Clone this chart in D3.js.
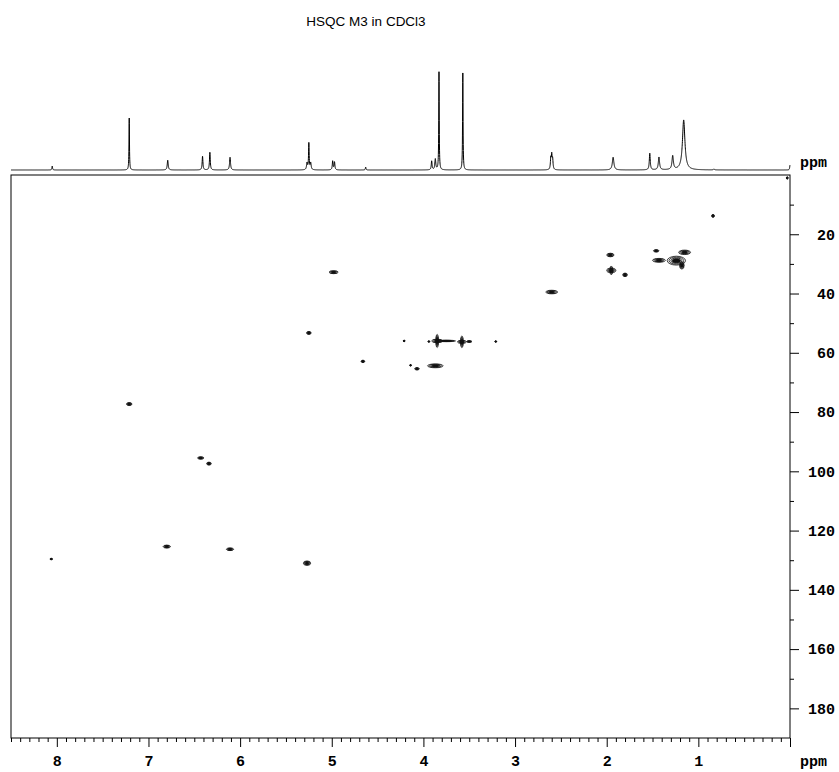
<!DOCTYPE html>
<html>
<head>
<meta charset="utf-8">
<script src="https://cdn.jsdelivr.net/npm/d3@7"></script>
<style>
  body { margin: 0; background: #fff; }
  svg { display: block; }
</style>
</head>
<body>
<svg width="839" height="772"></svg>
<script>
// 1H projection: peak shift (ppm), height (% of tallest), half width (ppm)
const peakShift  = [8.05, 7.21, 6.79, 6.41, 6.33, 6.11, 5.27, 5.25, 5.23, 4.99, 4.97, 4.63, 3.91, 3.87, 3.83, 3.57, 2.61, 2.60, 2.59, 1.93, 1.53, 1.43, 1.28, 1.16, 0.83, 0.00];
const peakHeight = [4, 53, 10, 14, 18, 13, 7, 27, 7, 9, 8, 3, 9, 11, 100, 99, 11, 14, 10, 13, 17, 13, 14, 51, 1, 5];
const peakWidth  = [0.004, 0.003, 0.006, 0.005, 0.005, 0.006, 0.006, 0.004, 0.006, 0.005, 0.005, 0.004, 0.005, 0.006, 0.003, 0.003, 0.005, 0.005, 0.005, 0.01, 0.006, 0.008, 0.009, 0.016, 0.006, 0.004];

// HSQC cross peaks: 1H shift, 13C shift, extent in 1H and 13C (ppm)
const spotH  = [0.03, 0.84, 1.96, 1.95, 1.95, 1.80, 1.46, 1.43, 1.24, 1.15, 1.18, 2.60, 4.98, 5.25, 4.66, 4.07, 3.87, 3.85, 3.85, 3.75, 3.58, 3.58, 3.50, 4.21, 3.94, 3.21, 4.14, 7.21, 6.43, 6.34, 6.80, 6.11, 8.06, 5.27];
const spotC  = [1.0, 13.8, 27.0, 32.2, 32.2, 33.7, 25.6, 28.8, 28.9, 26.1, 30.5, 39.5, 32.8, 53.3, 62.9, 65.4, 64.4, 56.0, 56.0, 56.0, 56.3, 56.3, 56.2, 56.0, 56.2, 56.2, 64.2, 77.3, 95.5, 97.4, 125.4, 126.3, 129.6, 131.0];
const spotWH = [0.02, 0.03, 0.08, 0.10, 0.03, 0.05, 0.06, 0.14, 0.20, 0.13, 0.05, 0.13, 0.10, 0.05, 0.04, 0.05, 0.17, 0.12, 0.03, 0.20, 0.10, 0.03, 0.06, 0.02, 0.02, 0.02, 0.02, 0.06, 0.07, 0.05, 0.08, 0.08, 0.03, 0.08];
const spotWC = [0.8, 1.0, 1.2, 1.5, 3.0, 1.2, 0.8, 1.3, 3.0, 1.5, 2.5, 1.2, 1.0, 1.0, 0.8, 0.8, 1.3, 1.2, 4.5, 0.5, 1.0, 4.0, 0.5, 0.5, 0.5, 0.5, 0.5, 1.0, 0.8, 1.0, 1.0, 0.9, 0.5, 1.5];

const xTicks = [8, 7, 6, 5, 4, 3, 2, 1];
const yTicks = [20, 40, 60, 80, 100, 120, 140, 160, 180];

function render() {
    const svg = d3.select('svg');

    const x = d3.scaleLinear().domain([8.5, 0]).range([11, 790]);   // 1H (ppm)
    const y = d3.scaleLinear().domain([0, 190]).range([175, 738]);  // 13C (ppm)
    const h = d3.scaleLinear().domain([0, 100]).range([170, 72]);   // 1D intensity

    const mono = "'Liberation Mono', 'Courier New', monospace";

    // title
    svg.append('text')
        .text('HSQC M3 in CDCl3')
        .attr('x', 366)
        .attr('y', 26)
        .attr('text-anchor', 'middle')
        .style('font-family', "'Liberation Sans', Arial, sans-serif")
        .style('font-size', '13.5px')

    // 1D projection as a sum of Lorentzian lines
    const grid = d3.range(8500, -1, -1).map(i => i / 1000);
    const spectrum = grid.map(ppm => {
        let s = 0;
        peakShift.forEach((p, i) => {
            const w = peakWidth[i];
            s += peakHeight[i] * w * w / ((ppm - p) * (ppm - p) + w * w);
        });
        return [ppm, s];
    });

    const line = d3.line()
        .x(d => x(d[0]))
        .y(d => h(d[1]));

    svg.append('path')
        .datum(spectrum)
        .attr('d', line)
        .attr('fill', 'none')
        .attr('stroke', '#000')
        .attr('stroke-width', 1)

    svg.append('text')
        .text('ppm')
        .attr('x', 800)
        .attr('y', 167)
        .style('font-family', mono)
        .style('font-weight', 'bold')
        .style('font-size', '15px')

    // frame
    svg.append('rect')
        .attr('x', 11)
        .attr('y', 175)
        .attr('width', 779)
        .attr('height', 563)
        .attr('fill', 'none')
        .attr('stroke', '#000')
        .attr('stroke-width', 1)

    // bottom axis (1H)
    const xAxis = svg.append('g')
        .attr('transform', 'translate(0,738)')
        .call(d3.axisBottom(x).tickValues(xTicks.concat([0])).tickSize(9).tickSizeOuter(0)
            .tickFormat(d => d === 0 ? '' : d));
    xAxis.select('.domain').remove();
    xAxis.selectAll('text')
        .attr('dy', null)
        .attr('y', 28)
        .style('font-family', mono)
        .style('font-weight', 'bold')
        .style('font-size', '15px')

    const xMinor = svg.append('g')
        .attr('transform', 'translate(0,738)')
        .call(d3.axisBottom(x).tickValues(d3.range(1, 86).map(i => i / 10).filter(v => Math.abs(v - Math.round(v)) > 0.01))
            .tickSize(4).tickFormat(''));
    xMinor.select('.domain').remove();

    // right axis (13C)
    const yAxis = svg.append('g')
        .attr('transform', 'translate(790,0)')
        .call(d3.axisRight(y).tickValues(yTicks).tickSize(9).tickSizeOuter(0));
    yAxis.select('.domain').remove();
    yAxis.selectAll('text')
        .attr('x', 45)
        .attr('text-anchor', 'end')
        .style('font-family', mono)
        .style('font-weight', 'bold')
        .style('font-size', '15px')

    const yMinor = svg.append('g')
        .attr('transform', 'translate(790,0)')
        .call(d3.axisRight(y).tickValues(d3.range(10, 190, 20)).tickSize(4).tickFormat(''));
    yMinor.select('.domain').remove();

    svg.append('text')
        .text('ppm')
        .attr('x', 800)
        .attr('y', 766)
        .style('font-family', mono)
        .style('font-weight', 'bold')
        .style('font-size', '15px')

    // cross peaks drawn as dense nested contour rings
    const spots = spotH.map((hp, i) => ({ h: hp, c: spotC[i], wh: spotWH[i], wc: spotWC[i] }));
    const levels = [1, 0.8, 0.6, 0.45, 0.3, 0.15];

    const groups = svg.selectAll('g.spot')
        .data(spots)
        .enter()
        .append('g')
        .attr('class', 'spot')

    groups.selectAll('ellipse')
        .data(d => levels.map(l => ({ d, l })))
        .enter()
        .append('ellipse')
        .attr('cx', o => x(o.d.h))
        .attr('cy', o => y(o.d.c))
        .attr('rx', o => Math.max(0.4, Math.abs(x(o.d.h + o.d.wh / 2) - x(o.d.h)) * o.l))
        .attr('ry', o => Math.max(0.4, Math.abs(y(o.d.c + o.d.wc / 2) - y(o.d.c)) * o.l))
        .attr('fill', o => o.l < 0.5 ? '#111' : 'none')
        .attr('stroke', '#111')
        .attr('stroke-width', 0.8)
}

render();
</script>
</body>
</html>
